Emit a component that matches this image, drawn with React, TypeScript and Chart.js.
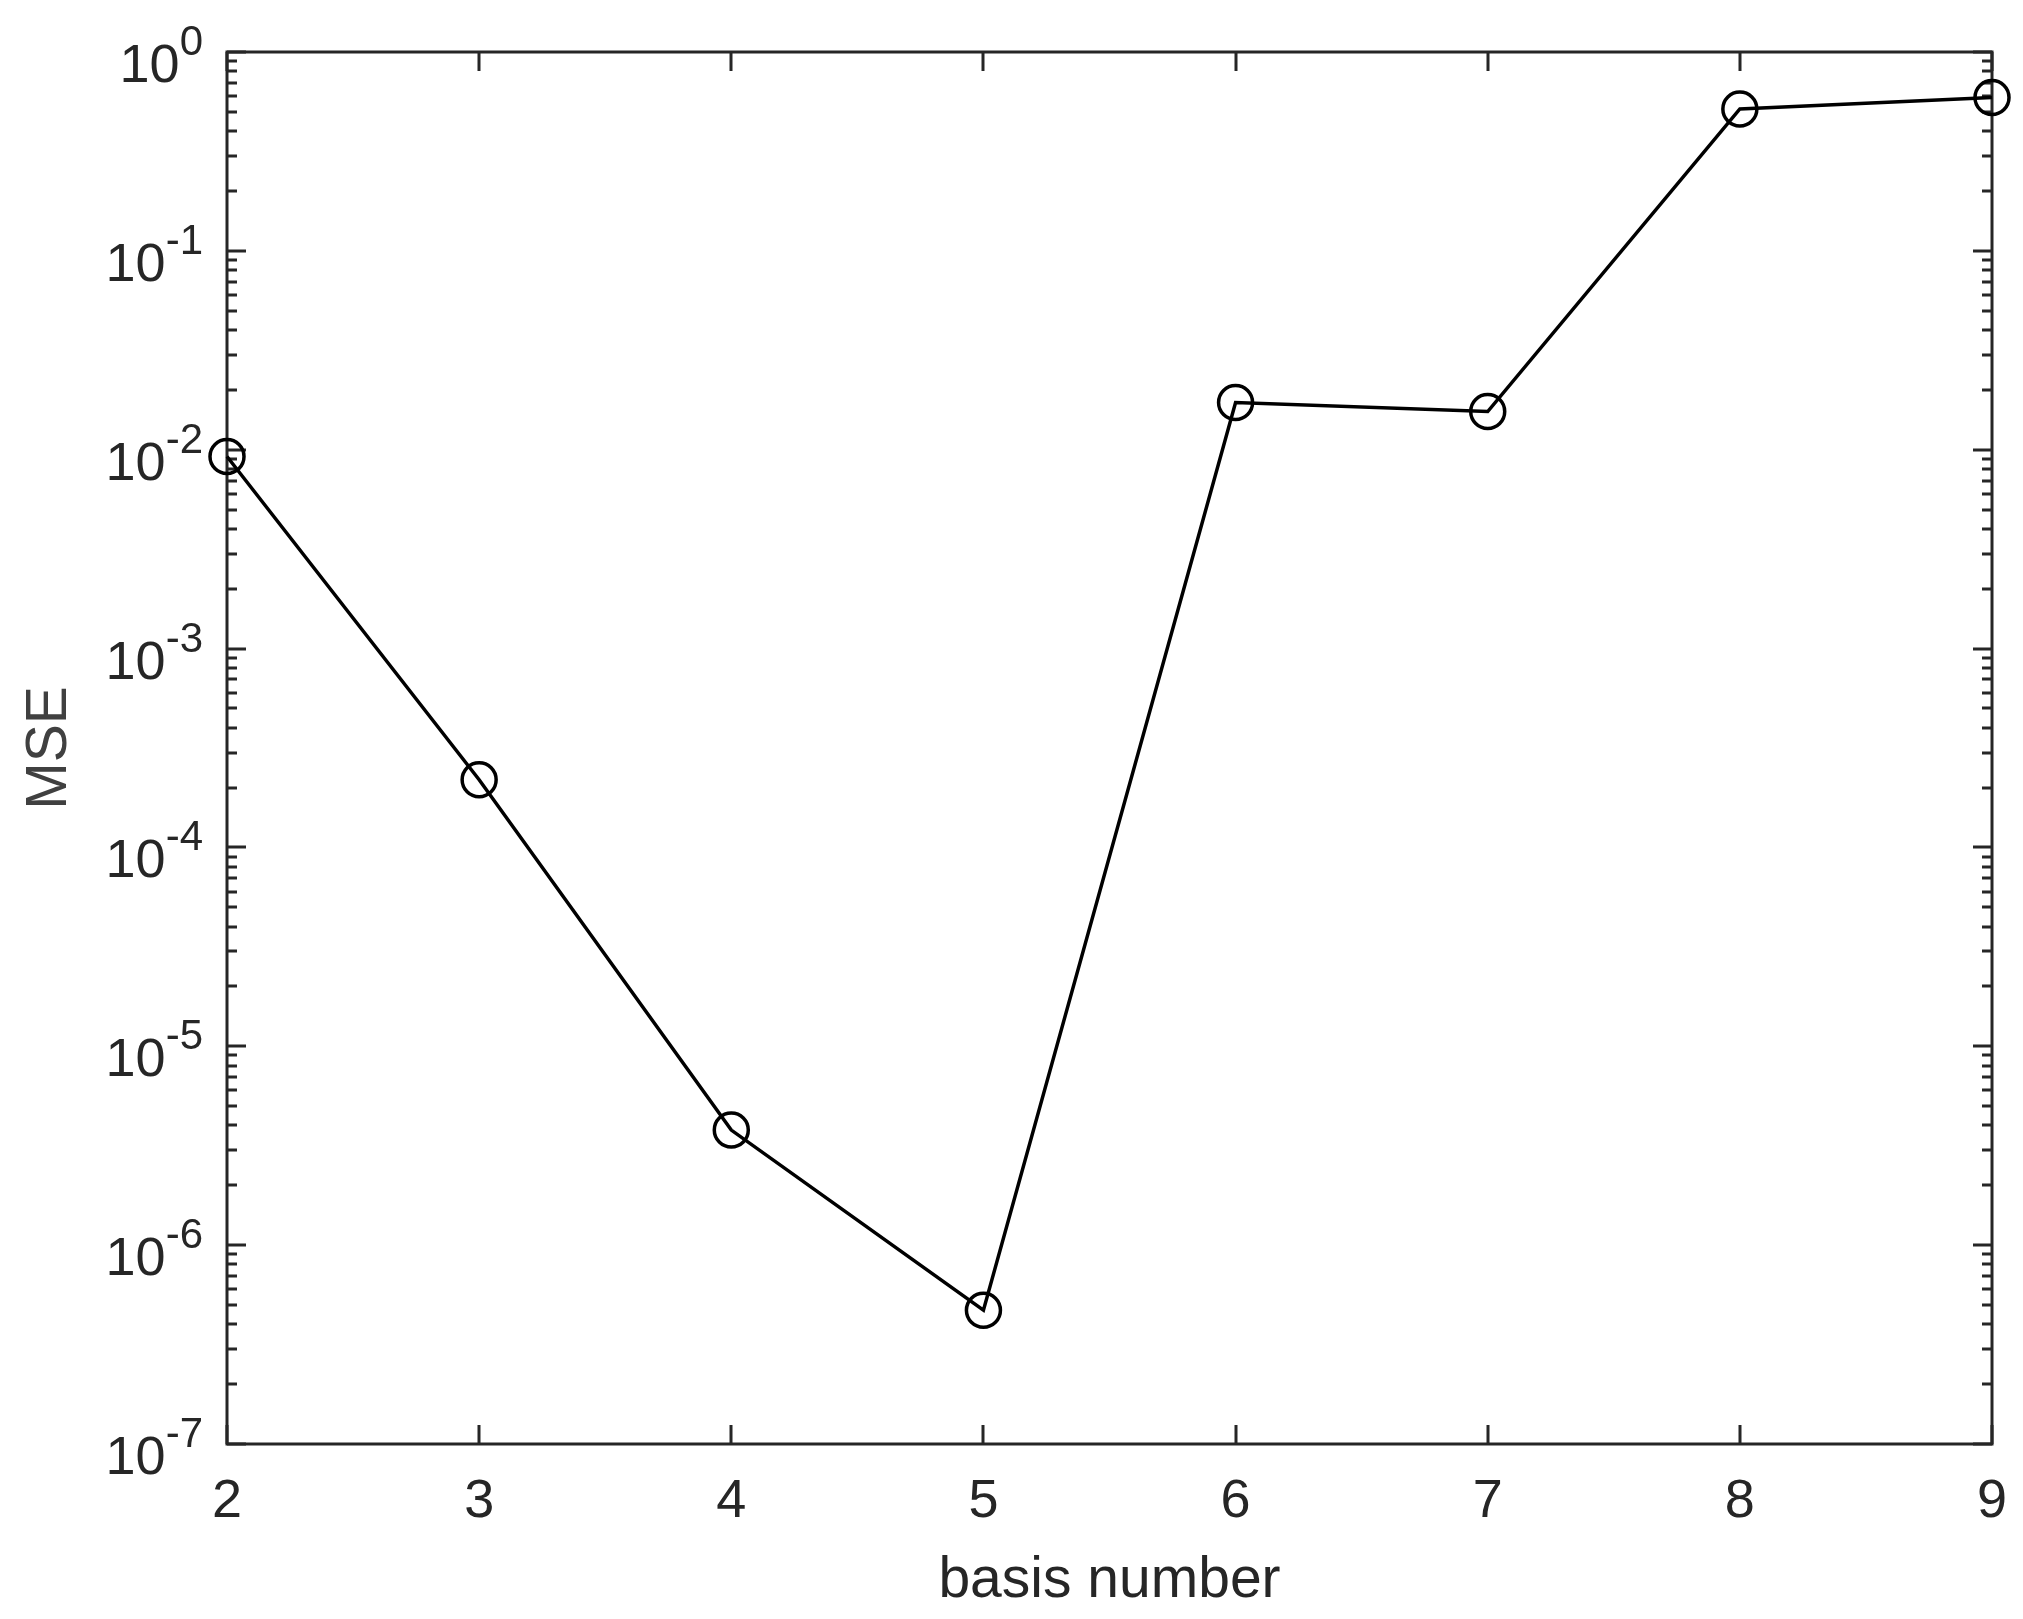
import React, { useEffect, useRef } from 'react';
import { Chart, registerables } from 'chart.js';

Chart.register(...registerables);

// ---- data ----
const basisNumbers = [2, 3, 4, 5, 6, 7, 8, 9];
const mseValues = [0.00924, 2.19e-4, 3.79e-6, 4.71e-7, 0.01727, 0.01556, 0.517, 0.591];
const yExponents = [0, -1, -2, -3, -4, -5, -6, -7];
const xTickValues = [2, 3, 4, 5, 6, 7, 8, 9];
const xAxisTitle = 'basis number';
const yAxisTitle = 'MSE';

const W = 2023;
const H = 1619;
const FONT = '"Liberation Sans", Arial, Helvetica, sans-serif';
const AXIS_COLOR = '#262626';

const axesPlugin = {
  id: 'matlabAxes',
  beforeDatasetsDraw(chart: any) {
    const { ctx, chartArea } = chart;
    const xs = chart.scales.x;
    const ys = chart.scales.y;
    const { left, right, top, bottom } = chartArea;
    ctx.save();
    ctx.strokeStyle = AXIS_COLOR;
    ctx.lineWidth = 3;
    ctx.lineCap = 'butt';
    // box
    ctx.strokeRect(left, top, right - left, bottom - top);
    // y ticks (log major + minor) on both sides
    ctx.beginPath();
    for (let k = -7; k <= 0; k++) {
      for (let m = 1; m <= 9; m++) {
        if (k === 0 && m > 1) break;
        const v = m * Math.pow(10, k);
        const y = Math.round(ys.getPixelForValue(v));
        const len = m === 1 ? 19 : 10;
        ctx.moveTo(left, y);
        ctx.lineTo(left + len, y);
        ctx.moveTo(right, y);
        ctx.lineTo(right - len, y);
      }
    }
    // x ticks, bottom and top
    for (const t of xTickValues) {
      const x = Math.round(xs.getPixelForValue(t));
      ctx.moveTo(x, bottom);
      ctx.lineTo(x, bottom - 19);
      ctx.moveTo(x, top);
      ctx.lineTo(x, top + 19);
    }
    ctx.stroke();

    // y tick labels with superscript exponents
    ctx.fillStyle = AXIS_COLOR;
    ctx.textBaseline = 'alphabetic';
    ctx.textAlign = 'left';
    for (const e of yExponents) {
      const y = ys.getPixelForValue(Math.pow(10, e));
      const expStr = String(e);
      ctx.font = `42px ${FONT}`;
      const we = ctx.measureText(expStr).width;
      ctx.font = `54px ${FONT}`;
      const wb = ctx.measureText('10').width;
      const R = 203;
      const x0 = R - we - wb;
      ctx.fillText('10', x0, y + 30);
      ctx.font = `42px ${FONT}`;
      ctx.fillText(expStr, x0 + wb, y + 3);
    }
    ctx.restore();
  },
};

export default function App() {
  const canvasRef = useRef<HTMLCanvasElement | null>(null);

  useEffect(() => {
    document.body.style.margin = '0';
    const canvas = canvasRef.current;
    if (!canvas) return;
    const chart = new Chart(canvas, {
      type: 'line',
      data: {
        datasets: [
          {
            data: basisNumbers.map((x, i) => ({ x, y: mseValues[i] })),
            borderColor: '#000000',
            borderWidth: 3.5,
            pointRadius: 17,
            pointBorderWidth: 3.5,
            pointBorderColor: '#000000',
            pointBackgroundColor: 'rgba(0,0,0,0)',
            pointStyle: 'circle',
            fill: false,
            tension: 0,
            clip: false as any,
          },
        ],
      },
      options: {
        responsive: false,
        animation: false,
        devicePixelRatio: 1,
        layout: { padding: { left: 0, top: 52, right: W - 1992, bottom: 0 } },
        plugins: {
          legend: { display: false },
          tooltip: { enabled: false },
        },
        scales: {
          x: {
            type: 'linear',
            position: 'bottom',
            min: 2,
            max: 9,
            afterFit: (s: any) => {
              s.height = H - 1444;
              s.paddingLeft = 0;
              s.paddingRight = 0;
            },
            afterBuildTicks: (s: any) => {
              s.ticks = xTickValues.map((v) => ({ value: v }));
            },
            ticks: {
              stepSize: 1,
              color: AXIS_COLOR,
              font: { family: FONT, size: 54 },
              padding: 26,
              maxRotation: 0,
              autoSkip: false,
            },
            grid: { display: false, drawTicks: false },
            border: { display: false },
            title: {
              display: true,
              text: xAxisTitle,
              color: AXIS_COLOR,
              font: { family: FONT, size: 57 },
              padding: { top: 0, bottom: 4 },
            },
          },
          y: {
            type: 'logarithmic',
            position: 'left',
            min: 1e-7,
            max: 1,
            afterFit: (s: any) => {
              s.width = 227;
              s.paddingTop = 0;
              s.paddingBottom = 0;
            },
            ticks: { display: false },
            grid: { display: false, drawTicks: false },
            border: { display: false },
            title: {
              display: true,
              text: yAxisTitle,
              color: '#404040',
              font: { family: FONT, size: 57 },
              padding: { top: 16, bottom: 0 },
            },
          },
        },
      },
      plugins: [axesPlugin],
    });
    return () => chart.destroy();
  }, []);

  return (
    <div style={{ width: W, height: H, background: '#ffffff' }}>
      <canvas ref={canvasRef} width={W} height={H} style={{ display: 'block' }} />
    </div>
  );
}
